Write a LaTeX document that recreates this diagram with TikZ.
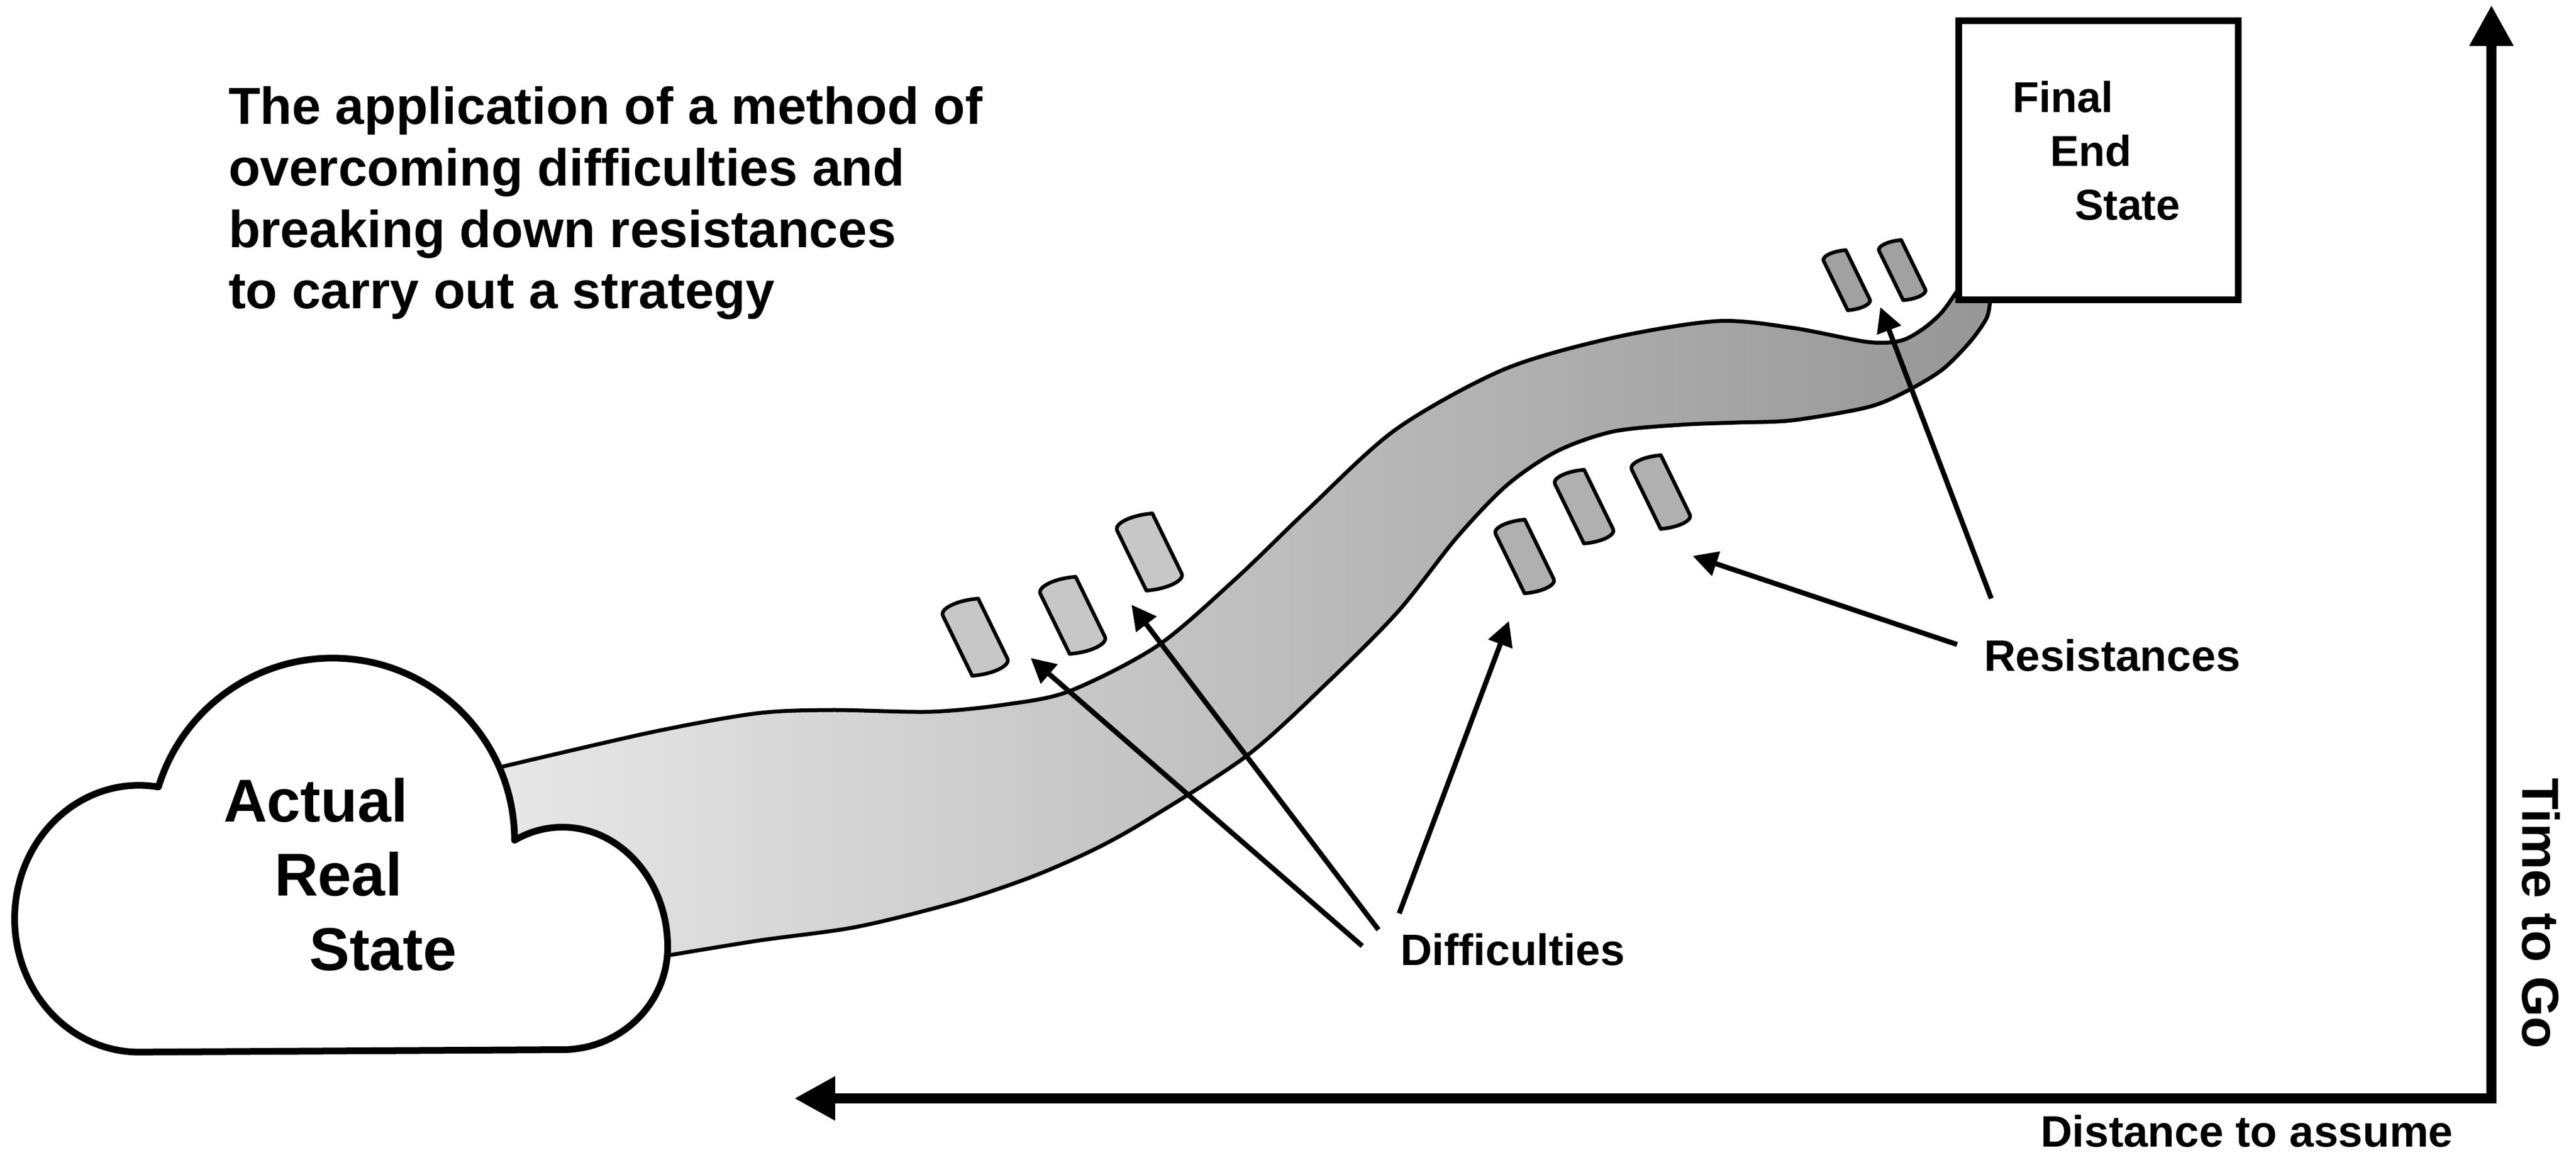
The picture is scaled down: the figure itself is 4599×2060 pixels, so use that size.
\documentclass[tikz,border=0pt]{standalone}
\usepackage{fontspec}
\setmainfont{Liberation Sans}
\usetikzlibrary{arrows.meta}
\definecolor{bandL}{gray}{0.91}
\definecolor{bandR}{gray}{0.59}
\definecolor{cylD}{gray}{0.78}
\definecolor{cylR}{gray}{0.69}
\definecolor{cylU}{gray}{0.63}
\newcommand{\drawcyl}[5]{%
  \begin{scope}[shift={(#1,#2)},rotate=26]
    \filldraw[cylst,fill=#5] (-#3,-#4) .. controls (-#3,{-#4-0.4*#3}) and (0,{-#4-0.4*#3}) .. (#3,-#4)
      -- (#3,#4) .. controls (#3,{#4+0.4*#3}) and (0,{#4+0.4*#3}) .. (-#3,#4) -- cycle;
  \end{scope}}
\begin{document}
\begin{tikzpicture}[x=0.01cm,y=-0.01cm,
  bandst/.style={draw,line width=0.07cm,line join=round,left color=bandL,right color=bandR},
  cloudst/.style={draw,fill=white,line width=0.12cm,line join=round},
  boxst/.style={draw,fill=white,line width=0.12cm,inner sep=0pt,outer sep=0pt,minimum width=4.99cm,minimum height=4.98cm},
  cylst/.style={draw,line width=0.065cm,line join=round},
  arr/.style={line width=0.09cm,-{Triangle[length=0.44cm,width=0.44cm]}},
  axisst/.style={line width=0.18cm,line join=miter,{Triangle[length=0.73cm,width=0.74cm]}-{Triangle[length=0.73cm,width=0.74cm]}},
  ttl/.style={inner sep=0pt,outer sep=0pt,anchor=base west,font=\bfseries\fontsize{26.4pt}{30pt}\selectfont},
  cld/.style={inner sep=0pt,outer sep=0pt,anchor=base west,font=\bfseries\fontsize{30.7pt}{36pt}\selectfont},
  lbl/.style={inner sep=0pt,outer sep=0pt,anchor=base west,font=\bfseries\fontsize{22.3pt}{26pt}\selectfont},
  fin/.style={inner sep=0pt,outer sep=0pt,anchor=base west,font=\bfseries\fontsize{21.9pt}{26pt}\selectfont}
]
\useasboundingbox (0,0) rectangle (4599,2060);

% band
\path[bandst] plot[smooth] coordinates {(880,1372) (1161,1307) (1350,1273) (1484,1267) (1662,1270) (1796,1257) (1910,1233) (2067,1152) (2207,1032) (2332,912) (2491,767) (2683,660) (2874,604) (3065,573) (3200,585) (3333,610) (3393,608) (3433,587) (3467,557) (3497,515)}
  -- plot[smooth] coordinates {(3553,535) (3547,567) (3517,610) (3467,660) (3400,700) (3333,727) (3200,750) (3100,754) (3000,758) (2880,770) (2780,805) (2690,866) (2600,960) (2497,1090) (2373,1215) (2228,1347) (2050,1462) (1953,1516) (1841,1565) (1707,1610) (1529,1654) (1350,1679) (1150,1712)}
  -- (870,1580) -- cycle;

% cloud
\draw[cloudst] (1004,1873) arc[start angle=90,end angle=0,x radius=188,y radius=183]
  arc[start angle=0,end angle=-117,x radius=188,y radius=214]
  arc[start angle=0,end angle=-163,radius=325]
  arc[start angle=-81,end angle=-270,x radius=222,y radius=238]
  -- cycle;

% final box
\node[boxst] (box) at (3746.5,286) {};

% cylinders
\drawcyl{1741}{1137}{35}{59.5}{cylD}
\drawcyl{1915}{1098}{35}{59.5}{cylD}
\drawcyl{2052}{985}{35}{59.5}{cylD}
\drawcyl{2722}{993}{29}{59}{cylR}
\drawcyl{2828}{904}{29}{59}{cylR}
\drawcyl{2965}{878}{29}{59}{cylR}
\drawcyl{3297}{500}{22}{49}{cylU}
\drawcyl{3396}{482}{22}{49}{cylU}

% texts
\node[ttl] (t1) at (408,221) {The application of a method of};
\node[ttl] (t2) at (408,331) {overcoming difficulties and};
\node[ttl] (t3) at (408,441) {breaking down resistances};
\node[ttl] (t4) at (408,550) {to carry out a strategy};
\node[cld] (c1) at (399,1466) {Actual};
\node[cld] (c2) at (490,1598) {Real};
\node[cld] (c3) at (552,1731) {State};
\node[fin] (f1) at (3593,200) {Final};
\node[fin] (f2) at (3660,296) {End};
\node[fin] (f3) at (3704,392) {State};
\node[lbl] (diff) at (2500,1722) {Difficulties};
\node[lbl] (res) at (3542,1197) {Resistances};
\node[lbl] (dist) at (3643,2046) {Distance to assume};
\node[ttl,anchor=center,rotate=-90] (time) at (4537,1630) {Time to Go};

% arrows
\coordinate (sA) at (2432,1688); \coordinate (tA) at (1840,1174);
\coordinate (sB) at (2461,1659); \coordinate (tB) at (2020,1079);
\coordinate (sC) at (2498,1630); \coordinate (tC) at (2694,1108);
\coordinate (sR) at (3494,1150); \coordinate (tR) at (3022,992);
\coordinate (sU) at (3555,1068); \coordinate (tU) at (3357,548);
\draw[arr] (sA) -- (tA);
\draw[arr] (sB) -- (tB);
\draw[arr] (sC) -- (tC);
\draw[arr] (sR) -- (tR);
\draw[arr] (sU) -- (tU);

% axes
\coordinate (axL) at (1418,1960);
\coordinate (axC) at (4448,1960);
\coordinate (axT) at (4448,9);
\draw[axisst] (axL) -- (axC) -- (axT);
\end{tikzpicture}
\end{document}
